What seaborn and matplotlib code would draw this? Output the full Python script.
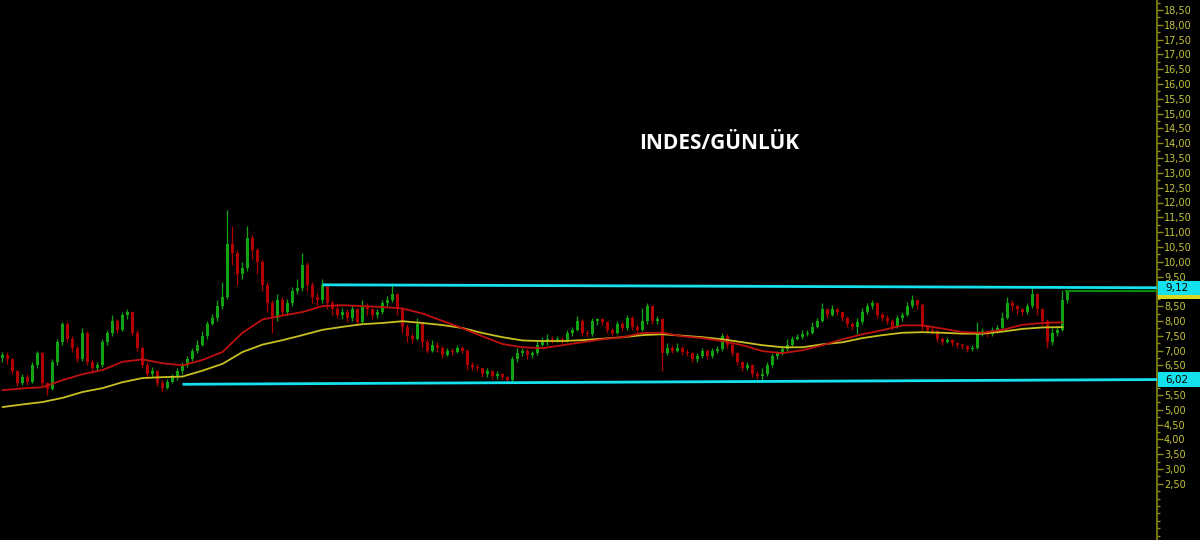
import numpy as np
import pandas as pd
import matplotlib
matplotlib.use("Agg")
import matplotlib.pyplot as plt
import matplotlib.transforms as mtransforms
from matplotlib.patches import Rectangle
from matplotlib.ticker import MultipleLocator, FuncFormatter
import seaborn as sns

# daily closes (one candle ~ every 5 px)
closes = [6.85, 6.7, 6.3, 5.9, 6.1, 5.95, 6.5, 6.9, 5.9, 5.7,
          6.6, 7.3, 7.9, 7.4, 7.1, 6.7, 7.6, 6.6, 6.4, 6.5,
          7.3, 7.6, 8.0, 7.7, 8.2, 8.3, 7.6, 7.1, 6.5, 6.2,
          6.3, 5.9, 5.75, 5.95, 6.1, 6.3, 6.5, 6.7, 7.0, 7.2,
          7.5, 7.9, 8.1, 8.5, 8.8, 10.6, 10.3, 9.6, 9.8, 10.8,
          10.4, 10.0, 9.2, 8.6, 8.1, 8.7, 8.3, 8.6, 9.0, 9.1,
          9.9, 9.2, 8.8, 8.7, 9.2, 8.6, 8.4, 8.2, 8.3, 8.1,
          8.4, 7.95, 8.5, 8.4, 8.2, 8.3, 8.6, 8.7, 8.9, 8.4,
          7.8, 7.5, 7.4, 7.9, 7.3, 7.0, 7.2, 7.1, 6.85, 7.0,
          6.95, 7.1, 7.0, 6.5, 6.45, 6.4, 6.2, 6.3, 6.15, 6.2,
          6.1, 6.0, 6.7, 6.9, 7.0, 6.85, 6.9, 7.2, 7.3, 7.4,
          7.35, 7.4, 7.35, 7.6, 7.7, 8.0, 7.6, 7.55, 8.0, 8.05,
          7.95, 7.7, 7.6, 7.9, 7.75, 8.1, 7.8, 7.7, 8.0, 8.5,
          8.0, 8.05, 6.9, 7.1, 7.0, 7.1, 6.95, 6.9, 6.7, 6.8,
          7.0, 6.8, 7.0, 7.05, 7.5, 7.2, 6.9, 6.6, 6.4, 6.5,
          6.2, 6.15, 6.2, 6.5, 6.8, 6.9, 7.05, 7.2, 7.4, 7.45,
          7.55, 7.6, 7.8, 8.0, 8.4, 8.2, 8.4, 8.3, 8.1, 7.9,
          7.8, 7.95, 8.3, 8.5, 8.6, 8.2, 8.1, 8.0, 7.8, 8.1,
          8.2, 8.5, 8.7, 8.55, 7.8, 7.7, 7.65, 7.4, 7.3, 7.35,
          7.25, 7.2, 7.15, 7.05, 7.1, 7.6, 7.65, 7.55, 7.7, 7.75,
          8.1, 8.6, 8.5, 8.4, 8.3, 8.5, 8.9, 8.4, 8.0, 7.3,
          7.6, 7.7, 8.7, 9.0]
highs = [6.95, 6.95, 6.75, 6.35, 6.2, 6.2, 6.6, 7.0, 6.95, 5.95,
         6.7, 7.4, 7.95, 7.95, 7.5, 7.15, 7.75, 7.65, 6.7, 6.6,
         7.4, 7.7, 8.2, 8.05, 8.3, 8.4, 8.35, 7.7, 7.15, 6.6,
         6.45, 6.35, 6.0, 6.05, 6.2, 6.4, 6.6, 6.8, 7.1, 7.35,
         7.65, 8.0, 8.25, 8.7, 9.3, 11.75, 11.2, 10.4, 10.0, 11.2,
         10.9, 10.45, 10.1, 9.3, 8.7, 8.9, 8.8, 8.75, 9.15, 9.4,
         10.3, 10.0, 9.3, 8.95, 9.4, 9.25, 8.7, 8.6, 8.45, 8.4,
         8.5, 8.45, 8.7, 8.6, 8.45, 8.4, 8.7, 8.85, 9.28, 8.95,
         8.45, 7.9, 7.6, 8.1, 7.95, 7.4, 7.35, 7.3, 7.15, 7.1,
         7.1, 7.2, 7.15, 7.05, 6.6, 6.55, 6.45, 6.4, 6.35, 6.3,
         6.25, 6.15, 6.8, 7.1, 7.1, 7.05, 7.0, 7.35, 7.45, 7.55,
         7.5, 7.5, 7.45, 7.7, 7.8, 8.15, 8.05, 7.7, 8.1, 8.1,
         8.1, 8.0, 7.75, 8.0, 7.95, 8.2, 8.15, 7.9, 8.45, 8.6,
         8.55, 8.15, 8.1, 7.25, 7.2, 7.25, 7.15, 7.05, 6.95, 6.9,
         7.1, 7.05, 7.1, 7.15, 7.6, 7.55, 7.25, 6.95, 6.65, 6.6,
         6.55, 6.3, 6.4, 6.6, 6.9, 7.0, 7.15, 7.4, 7.5, 7.55,
         7.7, 7.7, 7.95, 8.1, 8.6, 8.45, 8.55, 8.45, 8.35, 8.15,
         7.95, 8.1, 8.45, 8.6, 8.7, 8.65, 8.3, 8.2, 8.05, 8.2,
         8.3, 8.65, 8.87, 8.75, 8.6, 7.85, 7.8, 7.7, 7.45, 7.45,
         7.4, 7.3, 7.25, 7.2, 7.2, 7.95, 7.75, 7.7, 7.8, 7.85,
         8.3, 8.8, 8.7, 8.55, 8.45, 8.6, 9.15, 8.95, 8.45, 8.05,
         7.75, 7.8, 9.05, 9.05]
lows = [6.6, 6.55, 6.2, 5.8, 5.85, 5.85, 5.9, 6.4, 5.8, 5.5,
        5.65, 6.5, 7.2, 7.3, 6.95, 6.6, 6.65, 6.5, 6.25, 6.3,
        6.45, 7.2, 7.5, 7.6, 7.65, 8.05, 7.5, 7.0, 6.4, 6.1,
        6.1, 5.8, 5.6, 5.7, 5.9, 6.0, 6.2, 6.45, 6.65, 6.9,
        7.15, 7.4, 7.85, 8.0, 8.4, 8.75, 9.9, 9.2, 9.4, 9.7,
        10.1, 9.6, 9.0, 8.3, 7.6, 8.0, 8.2, 8.2, 8.5, 8.9,
        9.0, 9.0, 8.6, 8.5, 8.6, 8.4, 8.2, 8.1, 8.05, 7.95,
        8.0, 7.85, 7.9, 8.2, 8.05, 8.1, 8.25, 8.5, 8.65, 8.2,
        7.6, 7.3, 7.25, 7.35, 7.1, 6.9, 6.95, 6.95, 6.75, 6.8,
        6.85, 6.9, 6.9, 6.35, 6.35, 6.3, 6.1, 6.1, 6.05, 6.05,
        6.0, 5.9, 5.95, 6.6, 6.8, 6.7, 6.75, 6.85, 7.15, 7.2,
        7.25, 7.3, 7.25, 7.3, 7.5, 7.65, 7.5, 7.45, 7.5, 7.85,
        7.85, 7.6, 7.5, 7.55, 7.65, 7.7, 7.7, 7.5, 7.65, 7.9,
        7.9, 7.9, 6.3, 6.85, 6.9, 6.95, 6.85, 6.8, 6.6, 6.6,
        6.75, 6.7, 6.75, 6.9, 7.0, 7.1, 6.8, 6.5, 6.3, 6.35,
        6.1, 6.05, 5.95, 6.15, 6.45, 6.7, 6.85, 7.0, 7.15, 7.35,
        7.4, 7.5, 7.55, 7.75, 7.95, 8.1, 8.15, 8.2, 8.0, 7.8,
        7.7, 7.55, 7.9, 8.25, 8.4, 8.1, 8.0, 7.9, 7.7, 7.75,
        8.0, 8.15, 8.45, 8.4, 7.7, 7.6, 7.55, 7.3, 7.2, 7.25,
        7.15, 7.1, 7.05, 6.95, 7.0, 7.05, 7.5, 7.45, 7.5, 7.6,
        7.7, 8.05, 8.35, 8.25, 8.2, 8.25, 8.45, 8.2, 7.85, 7.1,
        7.2, 7.5, 7.65, 8.6]
first_open = 6.75

# moving averages, one reading every 4 candles
ma_fast = [5.66, 5.72, 5.76, 6.0, 6.2, 6.34, 6.62, 6.7, 6.57, 6.5,
           6.68, 6.95, 7.6, 8.05, 8.18, 8.3, 8.5, 8.53, 8.5, 8.47,
           8.42, 8.25, 8.0, 7.75, 7.48, 7.22, 7.11, 7.08, 7.18, 7.28,
           7.38, 7.45, 7.59, 7.6, 7.48, 7.42, 7.32, 7.18, 6.98, 6.91,
           7.01, 7.18, 7.38, 7.55, 7.69, 7.85, 7.85, 7.74, 7.62, 7.6,
           7.7, 7.87, 7.93, 7.95]
ma_slow = [5.09, 5.18, 5.26, 5.4, 5.6, 5.73, 5.93, 6.07, 6.1, 6.12,
           6.32, 6.55, 6.95, 7.2, 7.35, 7.52, 7.7, 7.8, 7.89, 7.93,
           7.99, 7.93, 7.86, 7.76, 7.59, 7.45, 7.34, 7.32, 7.32, 7.35,
           7.4, 7.45, 7.52, 7.55, 7.5, 7.45, 7.38, 7.28, 7.18, 7.11,
           7.11, 7.21, 7.28, 7.42, 7.52, 7.6, 7.62, 7.6, 7.57, 7.57,
           7.64, 7.73, 7.78, 7.79]

# channel lines (start candle, start price, end price at the right edge)
upper_channel = [64, 9.22, 9.12]
lower_channel = [36, 5.86, 6.02]
title = "INDES/GÜNLÜK"

BG = "#000000"
GREEN = "#12a312"
RED = "#b00000"
CYAN = "#14e1ee"
AXIS = "#8c8c14"
TICK = "#c3c33a"

sns.set_theme(style="dark", rc={"axes.facecolor": BG, "figure.facecolor": BG})
plt.rcParams["font.family"] = ["DejaVu Sans"]

df = pd.DataFrame({"close": closes, "high": highs, "low": lows})
df["open"] = [first_open] + closes[:-1]
df["i"] = np.arange(len(df))
df["up"] = df["close"] >= df["open"]

fig = plt.figure(figsize=(12, 5.4), dpi=100)
ax_w = 1157 / 1200
ax = fig.add_axes([0, 0, ax_w, 1])
ax.set_facecolor(BG)

x_right = 1157 / 5 - 0.5
ax.set_xlim(-0.5, x_right)
ax.set_ylim(0.6, 18.84)

# candles
colors = np.where(df["up"], GREEN, RED)
ax.vlines(df["i"], df["low"], df["high"], colors=colors, lw=0.9, zorder=2)
body_lo = df[["open", "close"]].min(axis=1)
body_h = (df["close"] - df["open"]).abs().clip(lower=0.03)
ax.bar(df["i"], body_h, bottom=body_lo, width=0.45, color=colors, linewidth=0, zorder=3)

# moving averages
ma_df = pd.DataFrame({"x": np.arange(len(ma_fast)) * 4, "fast": ma_fast, "slow": ma_slow})
sns.lineplot(data=ma_df, x="x", y="slow", ax=ax, color="#c8c020", lw=1.3, zorder=4)
sns.lineplot(data=ma_df, x="x", y="fast", ax=ax, color="#c01010", lw=1.3, zorder=5)

# channel
for start, p0, p1 in (upper_channel, lower_channel):
    ax.plot([start, x_right], [p0, p1], color=CYAN, lw=2.0, zorder=6, solid_capstyle="butt")

# last price line
ax.hlines(closes[-1], len(closes) - 1.5, x_right, color="#0a8a0a", lw=1.6, zorder=6)

ax.text(0.622, 0.735, title, transform=ax.transAxes, color="white",
        fontsize=15, fontweight="bold", family=["Open Sans", "DejaVu Sans"],
        ha="center", va="center")

# right price axis; labels hidden behind the price tags are left blank
hidden = (6.0, 9.0)


def price_label(v, pos):
    if any(abs(v - h) < 1e-6 for h in hidden):
        return ""
    return f"{v:.2f}".replace(".", ",")


for s in ["top", "left", "bottom"]:
    ax.spines[s].set_visible(False)
ax.spines["right"].set_color(AXIS)
ax.spines["right"].set_linewidth(1.2)
ax.yaxis.tick_right()
ax.set_xticks([])
ax.set_yticks(np.arange(2.5, 18.51, 0.5))
ax.yaxis.set_minor_locator(MultipleLocator(0.25))
ax.yaxis.set_major_formatter(FuncFormatter(price_label))
ax.tick_params(axis="y", which="major", colors=AXIS, labelcolor=TICK, labelsize=7,
               length=4, width=1, pad=1, direction="out")
ax.tick_params(axis="y", which="minor", colors=AXIS, length=2, width=1)
ax.grid(False)
ax.set_xlabel("")
ax.set_ylabel("")

# price tags on the axis
blend = mtransforms.blended_transform_factory(fig.transFigure, ax.transData)
tag_h = 0.48
fig.patches.append(Rectangle((ax_w + 0.001, 8.74), 1 - ax_w, 0.13, transform=blend,
                             facecolor="#d8d820", edgecolor="none", zorder=7, figure=fig))
for price in (upper_channel[2], lower_channel[2]):
    fig.patches.append(Rectangle((ax_w + 0.001, price - tag_h / 2), 1 - ax_w, tag_h,
                                 transform=blend, facecolor=CYAN, edgecolor="none",
                                 zorder=8, figure=fig))
    fig.text(ax_w + 0.007, price, f"{price:.2f}".replace(".", ","), transform=blend,
             color="black", fontsize=7.5, va="center", ha="left", zorder=9)

fig.savefig("out.png", dpi=100, facecolor=BG)
